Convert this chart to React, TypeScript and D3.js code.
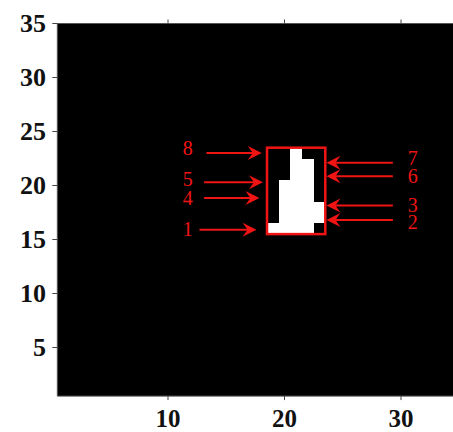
import React from "react";
import * as d3 from "d3";

// Image: 35x35 binary matrix, white pixels given per row [row, firstCol, lastCol]
const gridSize = 35;
const whiteRuns: [number, number, number][] = [
  [23, 21, 21],
  [22, 21, 22],
  [21, 21, 22],
  [20, 20, 22],
  [19, 20, 22],
  [18, 20, 23],
  [17, 20, 23],
  [16, 19, 22],
];
// bounding box (pixel indices)
const boxCols = [19, 23];
const boxRows = [16, 23];

const xTicks = [10, 20, 30];
const yTicks = [5, 10, 15, 20, 25, 30, 35];

// annotated arrows (data coordinates)
const leftLabels = ["8", "5", "4", "1"];
const leftRows = [23.0, 20.3, 18.85, 15.9];
const leftLabelRows = [23.45, 20.6, 18.8, 15.95];
const leftTail = [13.3, 13.1, 13.1, 12.7];
const leftTip = [18.05, 18.15, 17.85, 17.6];
const rightLabels = ["7", "6", "3", "2"];
const rightRows = [22.1, 20.85, 18.15, 16.8];
const rightLabelRows = [22.55, 20.9, 18.2, 16.65];
const rightTail = 29.3;
const rightTip = 23.6;
const leftLabelX = 11.7;
const rightLabelX = 31.0;

const W = 453;
const H = 432;
const RED = "#f01414";

export default function App() {
  const x = d3.scaleLinear().domain([10, 30]).range([168, 401]);
  const y = d3.scaleLinear().domain([5, 35]).range([347.5, 23.5]);

  const imgLeft = x(0.5);
  const imgRight = x(gridSize + 0.5);
  const imgTop = y(35);
  const imgBottom = y(0.5);

  const arrowHead = (tipX: number, yy: number, dir: number) => {
    const L = 14;
    const hw = 7;
    const notch = 9;
    return `M${tipX},${yy} L${tipX - dir * L},${yy - hw} L${tipX - dir * notch},${yy} L${tipX - dir * L},${yy + hw} Z`;
  };

  return (
    <svg
      width={W}
      height={H}
      style={{ position: "absolute", left: 0, top: 0, background: "#fff" }}
      fontFamily="'Liberation Serif', 'Times New Roman', serif"
    >
      <defs>
        <clipPath id="plotclip">
          <rect x={imgLeft} y={imgTop} width={imgRight - imgLeft} height={imgBottom - imgTop} />
        </clipPath>
      </defs>
      {/* image background */}
      <rect x={imgLeft} y={imgTop} width={imgRight - imgLeft} height={imgBottom - imgTop} fill="#000" />
      <g clipPath="url(#plotclip)">
        {whiteRuns.map(([r, c0, c1], i) => (
          <rect
            key={i}
            x={x(c0 - 0.5)}
            y={y(r + 0.5)}
            width={x(c1 + 0.5) - x(c0 - 0.5)}
            height={y(r - 0.5) - y(r + 0.5)}
            fill="#fff"
            shapeRendering="crispEdges"
          />
        ))}
        {/* bounding box */}
        <rect
          x={x(boxCols[0] - 0.5)}
          y={y(boxRows[1] + 0.5)}
          width={x(boxCols[1] + 0.5) - x(boxCols[0] - 0.5)}
          height={y(boxRows[0] - 0.5) - y(boxRows[1] + 0.5)}
          fill="none"
          stroke={RED}
          strokeWidth={2.5}
        />
        {/* left arrows */}
        {leftLabels.map((lab, i) => {
          const yy = y(leftRows[i]);
          const tip = x(leftTip[i]);
          return (
            <g key={"l" + i}>
              <line x1={x(leftTail[i])} x2={tip - 8} y1={yy} y2={yy} stroke={RED} strokeWidth={2} />
              <path d={arrowHead(tip, yy, 1)} fill={RED} />
              <text x={x(leftLabelX)} y={y(leftLabelRows[i])} fill={RED} fontSize={20} textAnchor="middle" dominantBaseline="central">
                {lab}
              </text>
            </g>
          );
        })}
        {/* right arrows */}
        {rightLabels.map((lab, i) => {
          const yy = y(rightRows[i]);
          const tip = x(rightTip);
          return (
            <g key={"r" + i}>
              <line x1={x(rightTail)} x2={tip + 8} y1={yy} y2={yy} stroke={RED} strokeWidth={2} />
              <path d={arrowHead(tip, yy, -1)} fill={RED} />
              <text x={x(rightLabelX)} y={y(rightLabelRows[i])} fill={RED} fontSize={20} textAnchor="middle" dominantBaseline="central">
                {lab}
              </text>
            </g>
          );
        })}
      </g>
      {/* axes lines */}
      <line x1={imgLeft} x2={W} y1={imgTop} y2={imgTop} stroke="#555" strokeWidth={1} />
      <line x1={imgLeft} x2={W} y1={imgBottom} y2={imgBottom} stroke="#555" strokeWidth={1} />
      <line x1={imgLeft} x2={imgLeft} y1={imgTop} y2={imgBottom} stroke="#555" strokeWidth={1} />
      {/* x ticks */}
      {xTicks.map((t) => (
        <g key={"x" + t}>
          <line x1={x(t)} x2={x(t)} y1={imgBottom} y2={imgBottom + 4} stroke="#444" />
          <line x1={x(t)} x2={x(t)} y1={imgTop} y2={imgTop - 4} stroke="#444" />
          <text x={x(t)} y={427} textAnchor="middle" fontSize={25} fontWeight="bold" fill="#111">
            {t}
          </text>
        </g>
      ))}
      {/* y ticks */}
      {yTicks.map((t) => (
        <g key={"y" + t}>
          <line x1={imgLeft} x2={imgLeft - 5} y1={y(t)} y2={y(t)} stroke="#444" />
          <text x={46} y={y(t)} textAnchor="end" dominantBaseline="central" fontSize={26} fontWeight="bold" fill="#111">
            {t}
          </text>
        </g>
      ))}
    </svg>
  );
}
